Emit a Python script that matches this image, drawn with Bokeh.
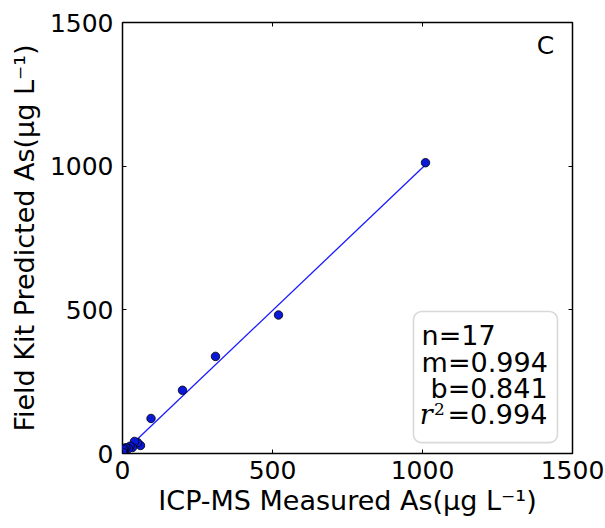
from bokeh.plotting import figure
from bokeh.models import Range1d, FixedTicker, LinearAxis, BoxAnnotation
from bokeh.core.properties import value
from bokeh.embed import file_html
from bokeh.resources import INLINE

# data
measured = [1010, 520, 310, 200, 95, 60, 50, 40, 33, 25, 20, 12, 8, 5, 3, 2, 1]
predicted = [1012, 482, 338, 220, 122, 28, 38, 42, 21, 25, 17, 20, 12, 18, 8, 14, 4]
slope = 0.994
intercept = 0.841
fit_x = [min(measured), max(measured)]
fit_y = [slope * v + intercept for v in fit_x]
ticks = [0, 500, 1000, 1500]
stats_lines = ["n=17", "m=0.994", "b=0.841"]
r2_text = "=0.994"
panel_letter = "C"

FONT = "DejaVu Sans"

p = figure(width=605, height=528, output_backend="svg", toolbar_location=None,
           x_range=Range1d(0, 1500), y_range=Range1d(0, 1500),
           min_border_left=122, min_border_right=33, min_border_top=22, min_border_bottom=75)
p.grid.visible = False
p.outline_line_color = "black"
p.outline_line_width = 1.5
p.background_fill_color = "white"
p.border_fill_color = "white"

for ax in (p.xaxis[0], p.yaxis[0]):
    ax.ticker = FixedTicker(ticks=ticks)
    ax.major_tick_in = 4
    ax.major_tick_out = 0
    ax.minor_tick_line_color = None
    ax.axis_line_color = None
    ax.major_label_text_font = FONT
    ax.major_label_text_font_size = "25px"
    ax.major_label_text_color = "black"
    ax.axis_label_text_font = FONT
    ax.axis_label_text_font_size = "27px"
    ax.axis_label_text_font_style = "normal"
    ax.axis_label_text_color = "black"

p.xaxis[0].axis_label = "ICP-MS Measured As(\u03bcg L\u207b\u00b9)"
p.yaxis[0].axis_label = "Field Kit Predicted As(\u03bcg L\u207b\u00b9)"
p.xaxis[0].major_label_standoff = 7
p.yaxis[0].major_label_standoff = 9
p.xaxis[0].axis_label_standoff = 3
p.yaxis[0].axis_label_standoff = 7

for loc in ("above", "right"):
    ax = LinearAxis(ticker=FixedTicker(ticks=ticks), major_tick_in=4, major_tick_out=0,
                    minor_tick_line_color=None, axis_line_color=None,
                    major_label_overrides={t: "" for t in ticks},
                    major_label_text_font_size="2px", major_label_standoff=0)
    p.add_layout(ax, loc)

box = BoxAnnotation(left=970, right=1450, bottom=38, top=494, border_radius=8,
                    fill_color="white", fill_alpha=1.0, line_color="#808080", line_width=1.6,
                    level="underlay")
p.add_layout(box)

p.line(fit_x, fit_y, line_color="#1a1aff", line_width=1.3)
p.scatter(measured, predicted, size=8.5, fill_color="#0a18d8", line_color="black", line_width=0.8)

ys = [411, 318, 226]
xs = [997, 997, 1027]
p.text(xs, ys, text=stats_lines, text_font=value(FONT), text_font_size="27px",
       text_baseline="middle", text_align="left", text_color="black")
p.text([991], [134], text=["r"], text_font=value("DejaVu Serif"), text_font_style="italic",
       text_font_size="27px", text_baseline="middle", text_align="left", text_color="black")
p.text([1038], [154], text=["2"], text_font=value("DejaVu Serif"),
       text_font_size="17px", text_baseline="middle", text_align="left", text_color="black")
p.text([1083], [134], text=[r2_text], text_font=value(FONT), text_font_size="27px",
       text_baseline="middle", text_align="left", text_color="black")

p.text([1410], [1420], text=[panel_letter], text_font=value(FONT), text_font_size="25px",
       text_baseline="middle", text_align="center", text_color="black")

open("out.html", "w").write(file_html(p, INLINE))
